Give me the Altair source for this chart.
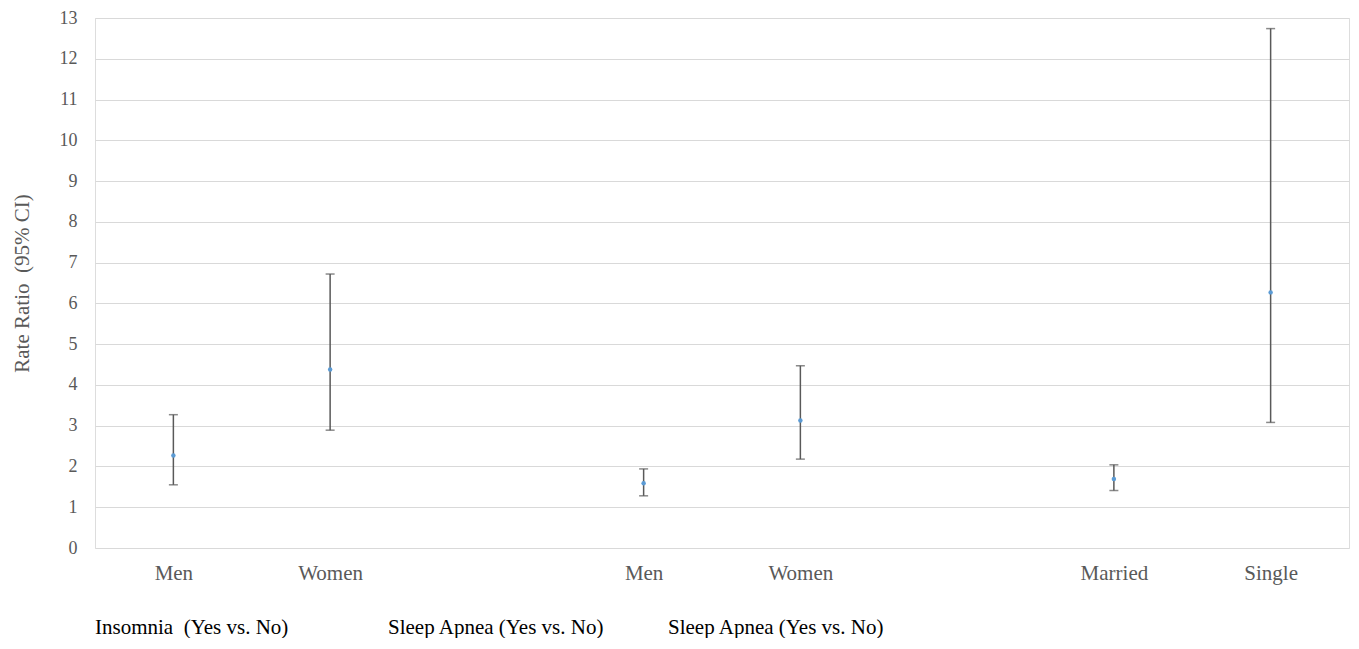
import altair as alt
import pandas as pd

slots = [0, 1, 3, 4, 6, 7]
labels = ["Men", "Women", "Men", "Women", "Married", "Single"]
point = [2.27, 4.38, 1.59, 3.13, 1.69, 6.27]
lower = [1.55, 2.89, 1.28, 2.18, 1.41, 3.08]
upper = [3.27, 6.72, 1.94, 4.47, 2.04, 12.74]

group_labels = ["Insomnia\u00a0\u00a0(Yes vs. No)", "Sleep Apnea (Yes vs. No)", "Sleep Apnea (Yes vs. No)"]
group_px = [0, 293, 573]

df = pd.DataFrame({"slot": slots, "label": labels, "rr": point, "lo": lower, "hi": upper})

label_map = "{" + ",".join(f"'{s}':'{l}'" for s, l in zip(slots, labels)) + "}"

FONT = "Times New Roman, Liberation Serif, Times, serif"
GRAY = "#595959"

xscale = alt.Scale(domain=[-0.5, 7.5], nice=False, zero=False)
yscale = alt.Scale(domain=[0, 13], nice=False)

x = alt.X("slot:Q", scale=xscale,
          axis=alt.Axis(values=slots, labelExpr=f"{label_map}[datum.value]",
                        title=None, grid=False, domain=False, ticks=False,
                        labelFont=FONT, labelFontSize=21, labelColor=GRAY,
                        labelPadding=14))
y_axis = alt.Axis(values=list(range(14)), title="Rate Ratio\u00a0\u00a0(95% CI)",
                  titleFont=FONT, titleFontSize=21, titleColor=GRAY,
                  titleFontWeight="normal", titlePadding=27,
                  labelFont=FONT, labelFontSize=18, labelColor=GRAY,
                  labelPadding=18, domain=False, ticks=False,
                  grid=True, gridColor="#d9d9d9", gridWidth=1.2)

base = alt.Chart(df)

rules = base.mark_rule(color=GRAY, strokeWidth=1.5).encode(
    x=x,
    y=alt.Y("lo:Q", scale=yscale, axis=y_axis),
    y2="hi:Q",
)
caps_hi = base.mark_tick(color=GRAY, thickness=1.5, size=9, orient="horizontal").encode(
    x="slot:Q", y="hi:Q")
caps_lo = base.mark_tick(color=GRAY, thickness=1.5, size=9, orient="horizontal").encode(
    x="slot:Q", y="lo:Q")
pts = base.mark_point(filled=True, color="#5B9BD5", size=20, opacity=1).encode(
    x="slot:Q", y="rr:Q")

gdf = pd.DataFrame({"g": group_labels, "px": group_px})
groups = alt.Chart(gdf).mark_text(font=FONT, fontSize=21, color="black",
                                  align="left", baseline="middle").encode(
    text="g:N", x=alt.X("px:Q", scale=None), y=alt.value(610))

chart = alt.layer(rules, caps_hi, caps_lo, pts, groups).properties(
    width=1254, height=530,
    autosize=alt.AutoSizeParams(type="none"),
    padding={"left": 87, "top": 10, "right": 2, "bottom": 90},
).configure_view(stroke=None).configure(background="white")

chart.save("out.html", embed_options={"renderer": "svg", "actions": False})
